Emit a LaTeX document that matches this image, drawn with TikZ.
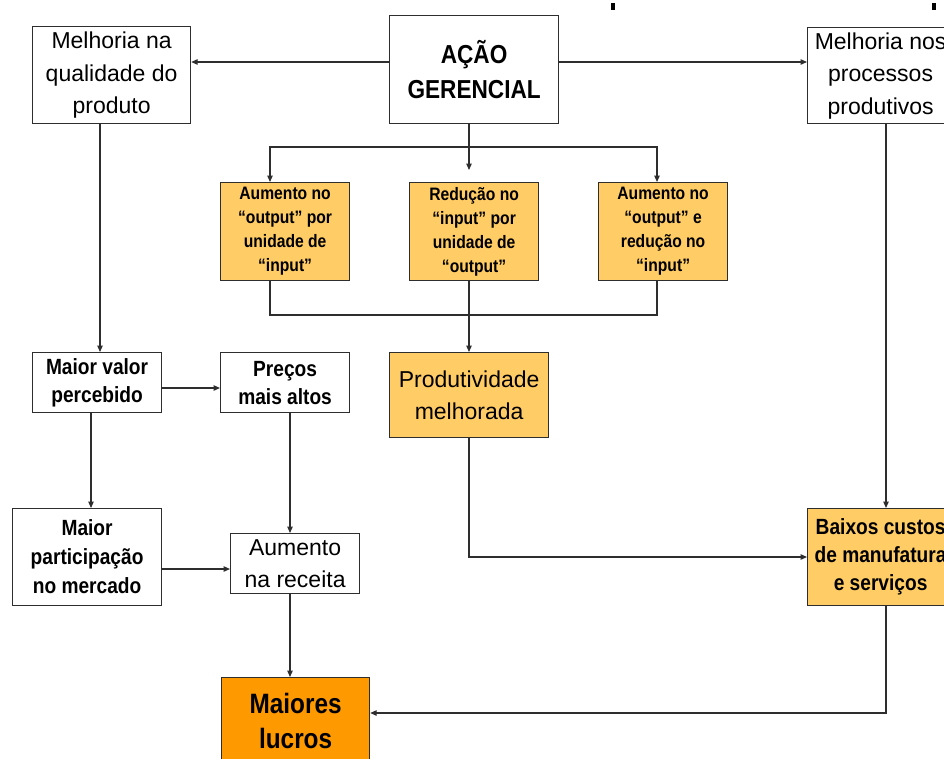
\documentclass[tikz,border=0pt]{standalone}
\usepackage{fontspec}
\setmainfont{Liberation Sans}
\newfontfamily\narrowsans[FakeStretch=0.87]{Liberation Sans}
\usetikzlibrary{arrows.meta}
\definecolor{lightorange}{HTML}{FFCC66}
\definecolor{darkorange}{HTML}{FF9900}
\definecolor{linegray}{HTML}{2E2E2E}

\begin{document}
\begin{tikzpicture}[x=1pt,y=-1pt,
  box/.style={draw=linegray, line width=1.2pt, fill=white, inner sep=0pt,
    align=center, anchor=north west},
  size/.style 2 args={minimum width=#1, minimum height=#2},
  regtext/.style={font=\fontsize{23}{32.5}\selectfont},
  boldtext/.style 2 args={font=\narrowsans\bfseries\fontsize{#1}{#2}\selectfont},
  conn/.style={draw=linegray, line width=1.2pt},
  arr/.style={conn, -{Triangle[length=6.5pt,width=5.5pt]}}]

\useasboundingbox (0,0) rectangle (944,758);
\clip (0,0) rectangle (944,758);

% small marks along the top edge
\fill[black] (611,3) rectangle (615,10);
\fill[black] (932,3) rectangle (936,10);

% top row
\node[box, size={158}{97}, regtext] (qual) at (32,26) {Melhoria na\\qualidade do\\produto};
\node[box, size={169}{108}, boldtext={26}{35}] (acao) at (389,15) {AÇÃO\\GERENCIAL};
\node[box, size={146}{96}, regtext] (proc) at (807,27) {Melhoria nos\\processos\\produtivos};

% productivity levers
\node[box, size={129}{98}, fill=lightorange, boldtext={18}{24}] (o1) at (220,182)
  {Aumento no\\“output” por\\unidade de\\“input”};
\node[box, size={129}{98}, fill=lightorange, boldtext={18}{24}] (o2) at (409,182)
  {Redução no\\“input” por\\unidade de\\“output”};
\node[box, size={129}{98}, fill=lightorange, boldtext={18}{24}] (o3) at (598,182)
  {Aumento no\\“output” e\\redução no\\“input”};

% middle row
\node[box, size={129}{60}, boldtext={22}{27.5}] (valor) at (32,352) {Maior valor\\percebido};
\node[box, size={129}{60}, boldtext={22}{28}] (precos) at (220,352) {Preços\\mais altos};
\node[box, size={159}{85}, fill=lightorange, regtext] (prod) at (389,352) {Produtividade\\melhorada};

% lower rows
\node[box, size={149}{97}, boldtext={22}{29}] (part) at (12,508) {Maior\\participação\\no mercado};
\node[box, size={129}{60}, regtext] (receita) at (230,533) {Aumento\\na receita};
\node[box, size={146}{97}, fill=lightorange, boldtext={22}{28}] (custos) at (807,508)
  {Baixos custos\\de manufatura\\e serviços};
\node[box, size={148}{87}, fill=darkorange, boldtext={28}{35}] (lucros) at (221,677) {Maiores\\lucros};

% connector levels
\coordinate (yTop) at (0,62);
\coordinate (busT) at (0,147);
\coordinate (busB) at (0,315);
\coordinate (gapM) at (469,170);
\coordinate (yV) at (0,388);
\coordinate (yP) at (0,569);
\coordinate (yK) at (0,557);
\coordinate (yL) at (0,713);
\coordinate (xQ) at (100,0);
\coordinate (xA) at (91,0);
\coordinate (xB) at (290,0);
\coordinate (xL) at (270,0);
\coordinate (xM) at (469,0);
\coordinate (xR) at (657,0);
\coordinate (xC) at (886,0);

% from the management action
\draw[arr] (yTop -| acao.west) -- (yTop -| qual.east);
\draw[arr] (yTop -| acao.east) -- (yTop -| proc.west);
\draw[conn] (acao.south -| xM) -- (busT -| xM);
\draw[arr] (busT -| xM) -| (o1.north -| xL);
\draw[arr] (busT -| xM) -| (o3.north -| xR);
\draw[arr] (busT -| xM) -- (gapM);

% levers into productivity
\draw[conn] (o1.south -| xL) |- (busB -| xR) -- (o3.south -| xR);
\draw[arr] (o2.south -| xM) -- (prod.north -| xM);

% revenue side
\draw[arr] (qual.south -| xQ) -- (valor.north -| xQ);
\draw[arr] (yV -| valor.east) -- (yV -| precos.west);
\draw[arr] (valor.south -| xA) -- (part.north -| xA);
\draw[arr] (precos.south -| xB) -- (receita.north -| xB);
\draw[arr] (yP -| part.east) -- (yP -| receita.west);
\draw[arr] (receita.south -| xB) -- (lucros.north -| xB);

% cost side
\draw[arr] (proc.south -| xC) -- (custos.north -| xC);
\draw[arr] (prod.south -| xM) |- (yK -| custos.west);
\draw[arr] (custos.south -| xC) |- (yL -| lucros.east);

\end{tikzpicture}
\end{document}
